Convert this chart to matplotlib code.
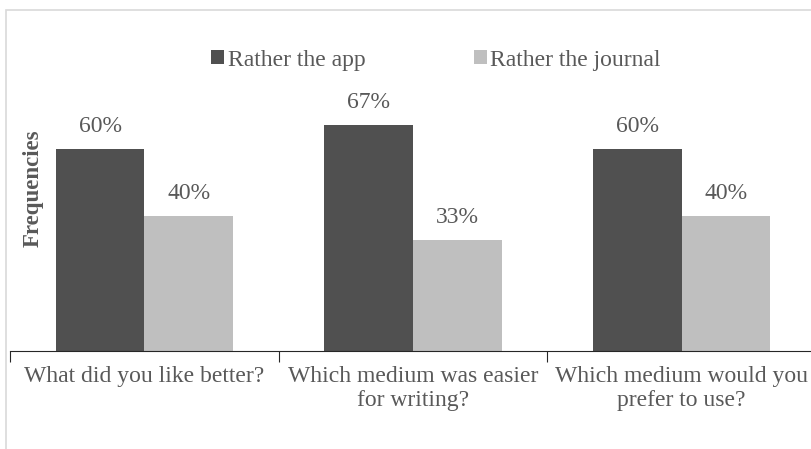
import numpy as np
from matplotlib import pyplot as plt, patches

questions = ['What did you like better?',
             'Which medium was easier\nfor writing?',
             'Which medium would you\nprefer to use?']
app = [0.60, 0.67, 0.60]
journal = [0.40, 0.33, 0.40]
series_names = ['Rather the app', 'Rather the journal']

W, H = 812, 449
plt.rcParams['font.family'] = ['Liberation Serif', 'DejaVu Serif']
txt = '#595959'
fs = 17

fig = plt.figure(figsize=(W / 100, H / 100), dpi=100)

# chart border (cropped on the right and bottom)
fig.patches.append(patches.Rectangle((6 / W, -0.1), 2, 1 - 10 / H + 0.1,
                                     transform=fig.transFigure, fill=False,
                                     edgecolor='#d9d9d9', linewidth=1.2))

# plot area: x 10..816 px, y 81..351 px
ax = fig.add_axes([10 / W, 98 / H, 806 / W, 270 / H])
ax.set_xlim(-0.5, 2.5)
ax.set_ylim(0, 0.8)

x = np.arange(len(questions))
bw = 0.33
b1 = ax.bar(x - bw / 2, app, bw, color='#505050', label=series_names[0])
b2 = ax.bar(x + bw / 2, journal, bw, color='#bfbfbf', label=series_names[1])

for bars in (b1, b2):
    for b in bars:
        ax.text(b.get_x() + b.get_width() / 2, b.get_height() + 0.035,
                f'{b.get_height() * 100:.0f}%', ha='center', va='bottom',
                fontsize=fs, color=txt)

for s in ['top', 'right', 'left']:
    ax.spines[s].set_visible(False)
ax.spines['bottom'].set_color('#262626')
ax.set_yticks([])
ax.set_xticks([-0.5, 0.5, 1.5, 2.5], minor=False)
ax.set_xticklabels([])
ax.tick_params(axis='x', length=8, color='#262626', direction='out')
for xi, q in zip(x, questions):
    ax.text(xi, -0.045, q, ha='center', va='top', fontsize=fs, color=txt,
            linespacing=1.17, clip_on=False)

fig.text(33 / W, 1 - 188 / H, 'Frequencies', rotation=90, ha='center',
         va='center', fontsize=16.5, fontweight='bold', color=txt)

leg = fig.legend(handles=[b1, b2], loc='center', bbox_to_anchor=(436 / W, 1 - 60 / H),
                 ncol=2, frameon=False, fontsize=fs, handlelength=0.55,
                 handleheight=0.55, handletextpad=0.15, columnspacing=4.6,
                 borderpad=0, borderaxespad=0)
for t in leg.get_texts():
    t.set_color(txt)

fig.savefig('out.png', dpi=100)
